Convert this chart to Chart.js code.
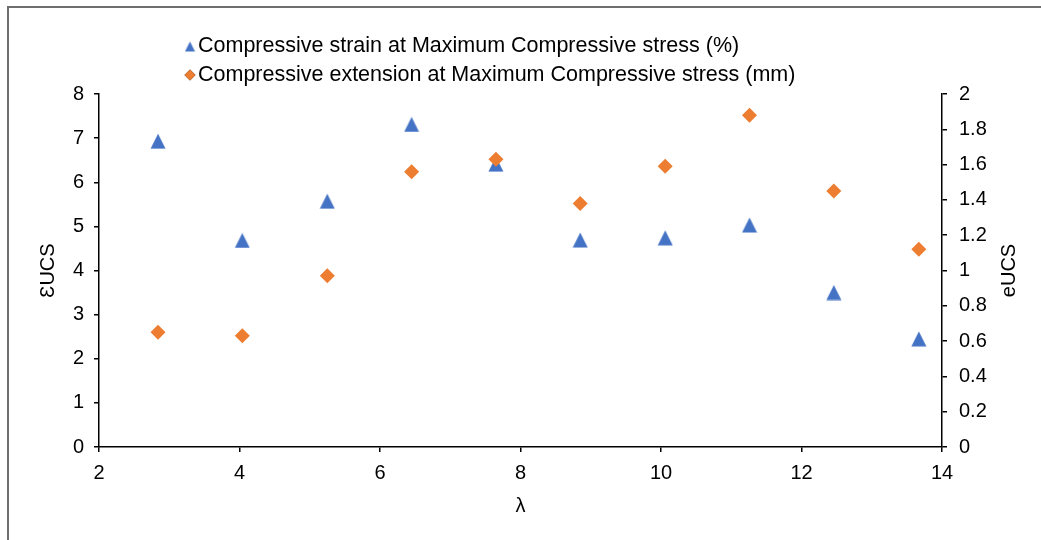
<!DOCTYPE html>
<html>
<head>
<meta charset="utf-8">
<script src="https://cdn.jsdelivr.net/npm/chart.js@4.4.1/dist/chart.umd.min.js"></script>
<style>
  html, body { margin: 0; padding: 0; background: #fff; }
  #wrap { position: relative; width: 1041px; height: 540px; overflow: hidden; }
  #frame { position: absolute; left: 7px; top: 6px; width: 1100px; height: 600px;
           border-left: 2px solid #6e6e6e; border-top: 2px solid #6e6e6e; }
  canvas { position: absolute; left: 0; top: 0; }
</style>
</head>
<body>
<div id="wrap">
  <div id="frame"></div>
  <canvas id="chart" width="1041" height="540"></canvas>
</div>
<script>
// Slenderness ratio (λ) for each specimen
const lambda = [2.84, 4.04, 5.25, 6.45, 7.65, 8.85, 10.06, 11.26, 12.46, 13.67];
// Compressive strain at maximum compressive stress (%), left axis
const strain = [6.93, 4.68, 5.57, 7.31, 6.41, 4.69, 4.74, 5.03, 3.50, 2.45];
// Compressive extension at maximum compressive stress (mm), right axis
const extension = [0.65, 0.63, 0.97, 1.56, 1.63, 1.38, 1.59, 1.88, 1.45, 1.12];

const seriesNames = [
  'Compressive strain at Maximum Compressive stress (%)',
  'Compressive extension at Maximum Compressive stress (mm)'
];

const xTicks = [2, 4, 6, 8, 10, 12, 14];
const yLeftTicks = [0, 1, 2, 3, 4, 5, 6, 7, 8];
const yRightTicks = [0, 0.2, 0.4, 0.6, 0.8, 1, 1.2, 1.4, 1.6, 1.8, 2];
const yRightLabels = ['0', '0.2', '0.4', '0.6', '0.8', '1', '1.2', '1.4', '1.6', '1.8', '2'];

const BLUE = '#4472C4';
const ORANGE = '#ED7D31';
const FONT = 'Liberation Sans, Arial, sans-serif';

// Triangle marker inscribed in a square box, centred on the point
function triangleMarker(size, color) {
  const c = document.createElement('canvas');
  c.width = size; c.height = size;
  const g = c.getContext('2d');
  g.fillStyle = color;
  g.beginPath();
  g.moveTo(size / 2, 0.5);
  g.lineTo(size - 0.5, size - 0.5);
  g.lineTo(0.5, size - 0.5);
  g.closePath();
  g.fill();
  return c;
}

const triBig = triangleMarker(16, BLUE);

const toPoints = (ys) => lambda.map((x, i) => ({ x: x, y: ys[i] }));

function fixedTicks(values) {
  return function (scale) {
    scale.ticks = values.map(v => ({ value: v }));
  };
}

// Legend stacked in a left-aligned column above the plot
const columnLegend = {
  id: 'columnLegend',
  afterDraw(chart) {
    const ctx = chart.ctx;
    const x0 = 190, textX = 198;
    const rows = [46.5, 75];
    ctx.save();
    ctx.font = '21.5px ' + FONT;
    ctx.fillStyle = '#000';
    ctx.textBaseline = 'middle';
    ctx.textAlign = 'left';
    chart.data.datasets.forEach((ds, i) => {
      const y = rows[i];
      if (i === 0) {
        ctx.drawImage(triangleMarker(11, BLUE), x0 - 5.5, y - 5.5);
      } else {
        Chart.helpers.drawPoint(ctx, { pointStyle: 'rectRot', radius: 5.5, borderWidth: 0 }, x0, y);
        ctx.fillStyle = ORANGE;
        ctx.fill();
        ctx.fillStyle = '#000';
      }
      ctx.fillText(ds.label, textX, y);
    });
    ctx.restore();
  }
};

// Right-axis title reads bottom-to-top
const rightTitle = {
  id: 'rightTitle',
  afterDraw(chart) {
    const ctx = chart.ctx;
    const area = chart.chartArea;
    ctx.save();
    ctx.translate(1009, (area.top + area.bottom) / 2);
    ctx.rotate(-Math.PI / 2);
    ctx.font = '20px ' + FONT;
    ctx.fillStyle = '#000';
    ctx.textAlign = 'center';
    ctx.textBaseline = 'middle';
    ctx.fillText('eUCS', 0, 0);
    ctx.restore();
  }
};

const axisGrid = { drawOnChartArea: false, drawTicks: true, tickLength: 5, color: '#000', lineWidth: 1.5 };
const axisBorder = { display: true, color: '#000', width: 1.5 };
const tickFont = { family: FONT, size: 20 };

new Chart(document.getElementById('chart'), {
  type: 'scatter',
  data: {
    datasets: [
      {
        label: seriesNames[0],
        data: toPoints(strain),
        yAxisID: 'y',
        pointStyle: triBig,
        pointRadius: 8,
        order: 1,
        backgroundColor: BLUE,
        borderColor: BLUE
      },
      {
        label: seriesNames[1],
        data: toPoints(extension),
        yAxisID: 'y2',
        pointStyle: 'rectRot',
        pointRadius: 7.5,
        pointBorderWidth: 0,
        order: 0,
        backgroundColor: ORANGE,
        borderColor: ORANGE
      }
    ]
  },
  options: {
    responsive: false,
    animation: false,
    events: [],
    layout: { padding: { left: 30, top: 94, right: 0, bottom: 22 } },
    plugins: { legend: { display: false }, tooltip: { enabled: false } },
    scales: {
      x: {
        type: 'linear',
        position: 'bottom',
        min: 2, max: 14,
        afterBuildTicks: fixedTicks(xTicks),
        ticks: { font: tickFont, color: '#000', padding: 9, maxRotation: 0 },
        grid: axisGrid,
        border: axisBorder,
        title: { display: true, text: 'λ', font: { family: FONT, size: 20 }, color: '#000', padding: { top: 0, bottom: 0 } },
        afterFit(s) { s.height = 71; s.paddingLeft = 0; s.paddingRight = 0; }
      },
      y: {
        type: 'linear',
        position: 'left',
        min: 0, max: 8,
        afterBuildTicks: fixedTicks(yLeftTicks),
        ticks: { font: tickFont, color: '#000', padding: 10 },
        grid: axisGrid,
        border: axisBorder,
        title: { display: true, text: 'ƐUCS', font: { family: FONT, size: 20 }, color: '#000', padding: { top: 6, bottom: 0 } },
        afterFit(s) { s.width = 69; s.paddingTop = 0; s.paddingBottom = 0; }
      },
      y2: {
        type: 'linear',
        position: 'right',
        min: 0, max: 2,
        afterBuildTicks: fixedTicks(yRightTicks),
        ticks: {
          font: tickFont, color: '#000', padding: 12,
          callback: (v) => yRightLabels[yRightTicks.findIndex(t => Math.abs(t - v) < 1e-9)]
        },
        grid: axisGrid,
        border: axisBorder,
        afterFit(s) { s.width = 99; s.paddingTop = 0; s.paddingBottom = 0; }
      }
    }
  },
  plugins: [columnLegend, rightTitle]
});
</script>
</body>
</html>
